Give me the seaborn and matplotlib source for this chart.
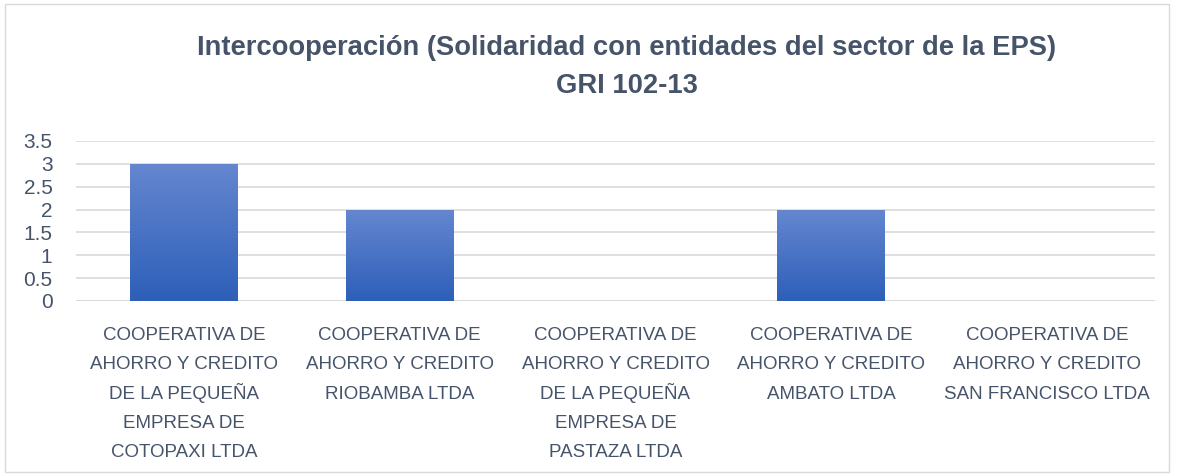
import numpy as np
import pandas as pd
import matplotlib
matplotlib.use('Agg')
import matplotlib.pyplot as plt
import seaborn as sns
from matplotlib.patches import Rectangle

categories = [
    'COOPERATIVA DE\nAHORRO Y CREDITO\nDE LA PEQUEÑA\nEMPRESA DE\nCOTOPAXI LTDA',
    'COOPERATIVA DE\nAHORRO Y CREDITO\nRIOBAMBA LTDA',
    'COOPERATIVA DE\nAHORRO Y CREDITO\nDE LA PEQUEÑA\nEMPRESA DE\nPASTAZA LTDA',
    'COOPERATIVA DE\nAHORRO Y CREDITO\nAMBATO LTDA',
    'COOPERATIVA DE\nAHORRO Y CREDITO\nSAN FRANCISCO LTDA',
]
values = [3, 2, 0, 2, 0]
y_ticks = [0, 0.5, 1, 1.5, 2, 2.5, 3, 3.5]
y_tick_labels = ['0', '0.5', '1', '1.5', '2', '2.5', '3', '3.5']

txt_color = '#46546A'

sns.set_style('white')
plt.rcParams['font.family'] = ['Liberation Sans', 'DejaVu Sans']

d = pd.DataFrame({'cat': categories, 'val': values})

fig = plt.figure(figsize=(11.83, 4.76), dpi=100)
ax = fig.add_axes([76 / 1183, 1 - 301 / 476, (1155 - 76) / 1183, 160 / 476])

sns.barplot(data=d, x='cat', y='val', color='#4472C4', width=0.5, ax=ax, zorder=3)

# vertical gradient fill like the original
grad = np.linspace(0, 1, 256).reshape(-1, 1)
cmap = matplotlib.colors.LinearSegmentedColormap.from_list('g', ['#2D5FB9', '#6587CF'])
for p in ax.patches:
    h = p.get_height()
    if h <= 0:
        p.set_visible(False)
        continue
    x0 = p.get_x()
    w = p.get_width()
    p.set_facecolor('none')
    p.set_edgecolor('none')
    im = ax.imshow(grad, cmap=cmap, aspect='auto', origin='lower',
                   extent=[x0, x0 + w, 0, h], zorder=3)
    im.set_clip_path(p)

ax.set_xlim(-0.5, 4.5)
ax.set_ylim(0, 3.5)
ax.set_yticks(y_ticks)
ax.set_yticklabels(y_tick_labels, fontsize=15, color=txt_color)
ax.tick_params(axis='y', length=0, pad=17)
ax.set_xticks(range(len(categories)))
ax.set_xticklabels([''] * len(categories))
ax.tick_params(axis='x', length=0)

# category labels line by line, so every line gets the same spacing
for i, lab in enumerate(categories):
    for j, line in enumerate(lab.split('\n')):
        ax.annotate(line, xy=(i, 0), xycoords=('data', 'axes fraction'),
                    xytext=(0, -39 - 29.3 * j), textcoords='offset pixels',
                    ha='center', va='baseline', fontsize=13.5, color=txt_color)

ax.set_xlabel('')
ax.set_ylabel('')
ax.grid(axis='y', color='#D9D9D9', lw=1.2, zorder=0)
ax.set_axisbelow(True)
for s in ax.spines.values():
    s.set_visible(False)
ax.axhline(0, color='#D9D9D9', lw=1.2, zorder=1)

fig.text(627 / 1183, 1 - 48 / 476, 'Intercooperación (Solidaridad con entidades del sector de la EPS)',
         ha='center', va='center', fontsize=19.7, fontweight='bold', color=txt_color)
fig.text(627 / 1183, 1 - 86 / 476, 'GRI 102-13', ha='center', va='center',
         fontsize=19.7, fontweight='bold', color=txt_color)

# chart frame
fig.patches.append(Rectangle((5 / 1183, 4 / 476), 1164 / 1183, 468 / 476,
                             transform=fig.transFigure, fill=False,
                             edgecolor='#D9D9D9', lw=1))

fig.savefig('out.png', dpi=100)
